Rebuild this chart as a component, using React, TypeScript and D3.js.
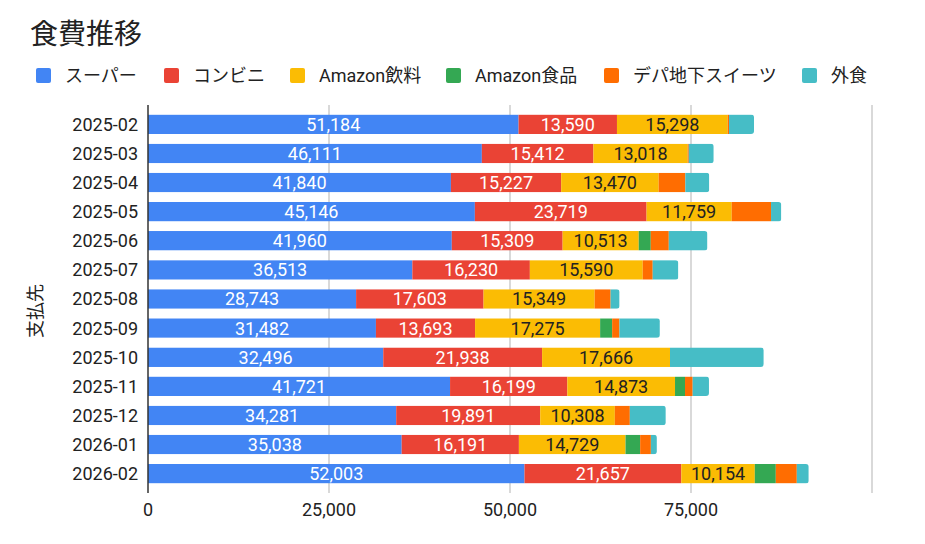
import React, { useRef, useEffect } from "react";
import * as d3 from "d3";

const months = [
  "2025-02", "2025-03", "2025-04", "2025-05", "2025-06", "2025-07", "2025-08",
  "2025-09", "2025-10", "2025-11", "2025-12", "2026-01", "2026-02",
];

const seriesNames = ["スーパー", "コンビニ", "Amazon飲料", "Amazon食品", "デパ地下スイーツ", "外食"];

const supermarket = [51184, 46111, 41840, 45146, 41960, 36513, 28743, 31482, 32496, 41721, 34281, 35038, 52003];
const convenience = [13590, 15412, 15227, 23719, 15309, 16230, 17603, 13693, 21938, 16199, 19891, 16191, 21657];
const amazonDrinks = [15298, 13018, 13470, 11759, 10513, 15590, 15349, 17275, 17666, 14873, 10308, 14729, 10154];
const amazonFood = [0, 0, 0, 0, 1660, 0, 0, 1660, 0, 1380, 0, 2020, 2900];
const depachika = [180, 150, 3680, 5430, 2490, 1380, 2200, 1010, 0, 1060, 2070, 1480, 2900];
const eatingOut = [3450, 3450, 3310, 1420, 5340, 3540, 1240, 5580, 12950, 2250, 4970, 830, 1650];

const xTicks = [0, 25000, 50000, 75000];
const xGrid = [25000, 50000, 75000, 100000];

const colors = ["#4285F4", "#EA4335", "#FBBC04", "#34A853", "#FF6D01", "#46BDC6"];
const labelColors = ["#ffffff", "#ffffff", "#222222"];

const FONT = "Roboto, 'Noto Sans CJK JP', sans-serif";

const App: React.FC = () => {
  const svgRef = useRef<SVGSVGElement>(null);
  const width = 925;
  const height = 544;
  const margin = { top: 105, right: 53, bottom: 51, left: 148 };

  useEffect(() => {
    const svg = d3.select(svgRef.current);
    svg.selectAll("*").remove();

    const values = [supermarket, convenience, amazonDrinks, amazonFood, depachika, eatingOut];
    const rows = months.map((m, i) => {
      const obj: any = { month: m };
      seriesNames.forEach((s, k) => (obj[s] = values[k][i]));
      return obj;
    });
    const stacked = d3.stack().keys(seriesNames)(rows);

    const x = d3
      .scaleLinear()
      .domain([0, 100000])
      .range([margin.left, width - margin.right]);
    const y = d3
      .scaleBand()
      .domain(months)
      .range([margin.top, height - margin.bottom])
      .paddingInner(0.33)
      .paddingOuter(0.33);

    // title
    svg
      .append("text")
      .attr("x", 30)
      .attr("y", 44)
      .style("font-size", "28px")
      .style("fill", "#222")
      .text("食費推移");

    // legend
    const legendX = [36, 164, 290, 446, 604, 802];
    seriesNames.forEach((s, i) => {
      const lg = svg.append("g").attr("transform", `translate(${legendX[i]},68)`);
      lg.append("rect")
        .attr("width", 15)
        .attr("height", 15)
        .attr("rx", 2)
        .attr("fill", colors[i]);
      lg.append("text")
        .attr("x", 29)
        .attr("y", 14)
        .style("font-size", "18px")
        .style("fill", "#222")
        .text(s);
    });

    // grid lines
    svg
      .append("g")
      .selectAll("line")
      .data(xGrid)
      .join("line")
      .attr("x1", (d) => x(d))
      .attr("x2", (d) => x(d))
      .attr("y1", margin.top)
      .attr("y2", height - margin.bottom)
      .attr("stroke", "#cccccc")
      .attr("stroke-width", 1.5);

    // clip paths for rounded bar ends
    const defs = svg.append("defs");
    months.forEach((m, i) => {
      const total = d3.sum(values, (v) => v[i]);
      defs
        .append("clipPath")
        .attr("id", `clip-${i}`)
        .append("rect")
        .attr("x", x(0) - 4)
        .attr("y", y(m)!)
        .attr("width", x(total) - x(0) + 4)
        .attr("height", y.bandwidth())
        .attr("rx", 3);
    });

    // bars
    const layers = svg
      .append("g")
      .selectAll("g")
      .data(stacked)
      .join("g")
      .attr("fill", (_d, i) => colors[i]);

    layers
      .selectAll("rect")
      .data((d) => d.map((p, i) => ({ p, i })))
      .join("rect")
      .attr("clip-path", (d) => `url(#clip-${d.i})`)
      .attr("x", (d) => x(d.p[0]))
      .attr("y", (d) => y(d.p.data.month as string)!)
      .attr("width", (d) => Math.max(0, x(d.p[1]) - x(d.p[0])))
      .attr("height", y.bandwidth());

    // value labels for first three series
    stacked.slice(0, 3).forEach((series, k) => {
      svg
        .append("g")
        .selectAll("text")
        .data(series)
        .join("text")
        .attr("x", (d) => (x(d[0]) + x(d[1])) / 2)
        .attr("y", (d) => y(d.data.month as string)! + y.bandwidth() / 2)
        .attr("dy", "0.36em")
        .attr("text-anchor", "middle")
        .style("font-size", "18px")
        .style("fill", labelColors[k])
        .text((d) => d3.format(",")(d[1] - d[0]));
    });

    // y axis line
    svg
      .append("line")
      .attr("x1", x(0))
      .attr("x2", x(0))
      .attr("y1", margin.top)
      .attr("y2", height - margin.bottom)
      .attr("stroke", "#333")
      .attr("stroke-width", 1.5);

    // y tick labels
    svg
      .append("g")
      .selectAll("text")
      .data(months)
      .join("text")
      .attr("x", 138)
      .attr("y", (d) => y(d)! + y.bandwidth() / 2)
      .attr("dy", "0.36em")
      .attr("text-anchor", "end")
      .style("font-size", "18px")
      .style("fill", "#222")
      .text((d) => d);

    // x tick labels
    svg
      .append("g")
      .selectAll("text")
      .data(xTicks)
      .join("text")
      .attr("x", (d) => x(d))
      .attr("y", 516)
      .attr("text-anchor", "middle")
      .style("font-size", "18px")
      .style("fill", "#222")
      .text((d) => d3.format(",")(d));

    // y axis title
    svg
      .append("text")
      .attr("transform", "translate(42,311) rotate(-90)")
      .attr("text-anchor", "middle")
      .style("font-size", "18px")
      .style("fill", "#222")
      .text("支払先");
  }, []);

  return (
    <svg
      ref={svgRef}
      width={width}
      height={height}
      style={{
        position: "absolute",
        left: 0,
        top: 0,
        background: "white",
        fontFamily: FONT,
      }}
    />
  );
};

export default App;
